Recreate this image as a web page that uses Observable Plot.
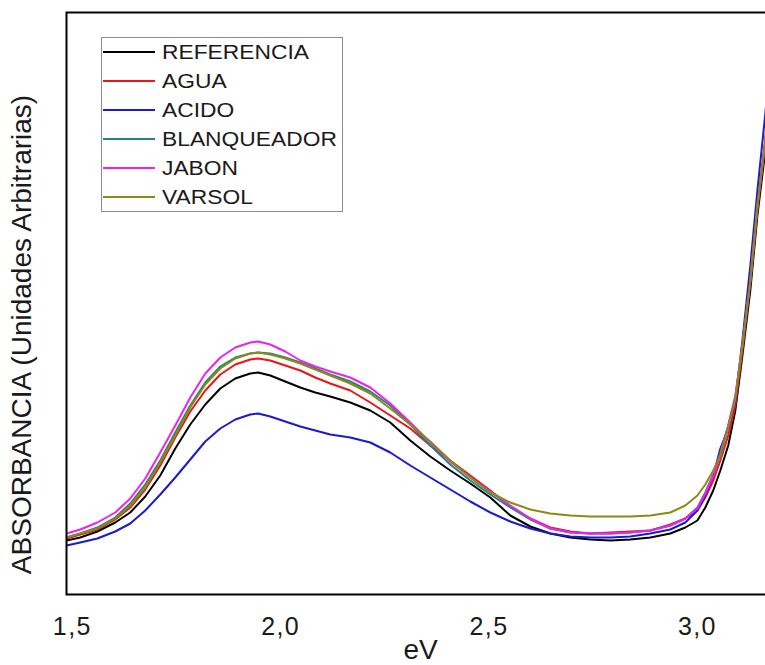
<!DOCTYPE html>
<html><head><meta charset="utf-8">
<script src="https://cdn.jsdelivr.net/npm/d3@7"></script>
<script src="https://cdn.jsdelivr.net/npm/@observablehq/plot@0.6"></script>
<style>
html,body{margin:0;padding:0;background:#fff;overflow:hidden;}
#wrap{position:relative;width:765px;height:665px;overflow:hidden;font-family:"Liberation Sans",Arial,sans-serif;}
#wrap svg{position:absolute;left:0;top:0;max-width:none !important;}
#legend{position:absolute;left:101px;top:37px;width:242px;height:175px;border:1px solid #8c8c8c;box-sizing:border-box;background:#fff;}
.sw{position:absolute;left:1px;width:52px;height:2px;}
.lb{position:absolute;left:60px;font-size:20px;color:#1a1a1a;white-space:nowrap;transform-origin:left center;transform:scaleX(1.14);line-height:20px;}
</style></head>
<body><div id="wrap"></div>
<script>
const energy = [1.486,1.519,1.560,1.603,1.639,1.675,1.711,1.747,1.783,1.819,1.855,1.891,1.927,1.946,1.975,2.011,2.047,2.083,2.119,2.167,2.215,2.263,2.311,2.359,2.407,2.455,2.503,2.551,2.599,2.647,2.695,2.743,2.791,2.839,2.887,2.935,2.971,3.000,3.019,3.038,3.055,3.074,3.091,3.108,3.127,3.144,3.163,3.187];

const referencia = [0.54,0.57,0.63,0.72,0.82,0.98,1.19,1.46,1.70,1.90,2.06,2.16,2.21,2.22,2.19,2.13,2.07,2.02,1.98,1.92,1.84,1.72,1.54,1.38,1.24,1.11,0.97,0.79,0.68,0.61,0.57,0.55,0.54,0.55,0.57,0.61,0.67,0.74,0.87,1.04,1.24,1.49,1.84,2.39,3.04,3.79,4.44,5.54];
const agua = [0.56,0.60,0.65,0.75,0.87,1.05,1.29,1.57,1.83,2.04,2.20,2.30,2.35,2.36,2.34,2.29,2.24,2.17,2.11,2.04,1.92,1.79,1.66,1.49,1.34,1.19,1.04,0.88,0.76,0.67,0.63,0.61,0.62,0.63,0.64,0.70,0.76,0.84,0.97,1.14,1.34,1.59,1.89,2.44,3.11,3.84,4.54,5.64];
const acido = [0.49,0.52,0.56,0.63,0.71,0.84,1.00,1.17,1.35,1.53,1.66,1.75,1.80,1.81,1.78,1.73,1.68,1.64,1.60,1.57,1.52,1.42,1.29,1.17,1.05,0.93,0.82,0.73,0.66,0.61,0.58,0.57,0.57,0.58,0.61,0.65,0.72,0.84,0.99,1.19,1.46,1.66,1.94,2.54,3.29,4.04,4.81,5.94];
const blanqueador = [0.57,0.61,0.67,0.77,0.91,1.10,1.34,1.62,1.89,2.12,2.28,2.37,2.41,2.42,2.41,2.37,2.32,2.26,2.20,2.13,2.03,1.89,1.70,1.49,1.30,1.14,1.00,0.87,0.75,0.66,0.62,0.61,0.61,0.62,0.64,0.69,0.76,0.87,1.02,1.20,1.42,1.69,1.97,2.49,3.14,3.89,4.54,5.64];
const jabon = [0.61,0.65,0.72,0.82,0.96,1.16,1.42,1.69,1.97,2.21,2.37,2.47,2.52,2.53,2.50,2.43,2.34,2.28,2.23,2.17,2.07,1.91,1.72,1.52,1.33,1.17,1.03,0.89,0.76,0.66,0.62,0.61,0.61,0.62,0.64,0.69,0.76,0.86,1.01,1.19,1.39,1.69,1.99,2.49,3.14,3.89,4.56,5.69];
const varsol = [0.57,0.61,0.66,0.76,0.89,1.07,1.32,1.59,1.87,2.10,2.26,2.36,2.41,2.42,2.40,2.36,2.31,2.25,2.19,2.11,2.01,1.86,1.70,1.53,1.34,1.17,1.02,0.92,0.85,0.81,0.79,0.78,0.78,0.78,0.79,0.82,0.89,0.99,1.10,1.24,1.39,1.66,1.96,2.49,3.14,3.89,4.52,5.59];

const seriesNames = ["REFERENCIA","AGUA","ACIDO","BLANQUEADOR","JABON","VARSOL"];
const seriesValues = [referencia, agua, acido, blanqueador, jabon, varsol];
const seriesColors = ["#000000","#e8161b","#1a1ad0","#1f8585","#ee22ee","#8a8a14"];

const xTicks = [1.5, 2.0, 2.5, 3.0];
const xTickLabels = ["1,5","2,0","2,5","3,0"];
const xTitle = "eV";
const yTitle = "ABSORBANCIA (Unidades Arbitrarias)";

const rows = [];
seriesNames.forEach((name, s) => {
  seriesValues[s].forEach((v, i) => rows.push({serie: name, e: energy[i], a: v}));
});

const font = '"Liberation Sans", Arial, sans-serif';
const chart = Plot.plot({
  width: 774, height: 665,
  marginLeft: 66, marginRight: 0, marginTop: 12, marginBottom: 71,
  style: {fontFamily: font, background: "transparent", overflow: "visible", color: "#1a1a1a", maxWidth: "none"},
  x: {domain: [1.486, 3.185], label: null},
  y: {domain: [0, 5.82], axis: null},
  color: {domain: seriesNames, range: seriesColors},
  marks: [
    Plot.line(rows, {x: "e", y: "a", z: "serie", stroke: "serie", strokeWidth: 2, clip: true, curve: "linear"}),
    Plot.frame({stroke: "#000", strokeWidth: 2}),
    Plot.axisX(xTicks, {tickSize: 0, tickPadding: 23, fontSize: 25, label: null,
      tickFormat: d => xTickLabels[xTicks.indexOf(d)]}),
    Plot.text([xTitle], {text: d => d, frameAnchor: "bottom", textAnchor: "middle", dy: 56, lineAnchor: "middle", fontSize: 28, fill: "#1a1a1a"}),
    Plot.text([yTitle], {text: d => d, frameAnchor: "left", textAnchor: "middle", rotate: -90, dx: -44, dy: 31, lineAnchor: "middle", fontSize: 28, fill: "#1a1a1a"})
  ]
});
d3.select(chart).selectAll('[aria-label="x-axis tick label"] text').attr("letter-spacing", "1.4");
const wrap = document.getElementById("wrap");
wrap.appendChild(chart);

const legend = document.createElement("div");
legend.id = "legend";
seriesNames.forEach((name, i) => {
  const cy = 14 + 29 * i;
  const sw = document.createElement("div");
  sw.className = "sw";
  sw.style.top = (cy - 1) + "px";
  sw.style.background = seriesColors[i];
  const lb = document.createElement("div");
  lb.className = "lb";
  lb.style.top = (cy - 10) + "px";
  lb.textContent = name;
  legend.appendChild(sw);
  legend.appendChild(lb);
});
wrap.appendChild(legend);
</script>
</body></html>
